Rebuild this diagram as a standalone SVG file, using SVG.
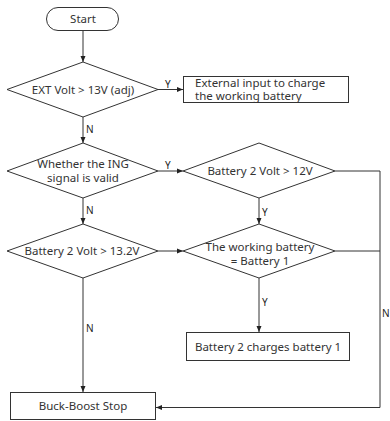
<svg xmlns="http://www.w3.org/2000/svg" width="390" height="421" viewBox="0 0 390 421">
<defs>
<marker id="ah" markerWidth="6" markerHeight="6" refX="6" refY="3" orient="auto" markerUnits="userSpaceOnUse">
<path d="M0,0.5 L6,3 L0,5.5 Z" fill="#222"/>
</marker>
</defs>
<style>
.s{fill:#fff;stroke:#333;stroke-width:1}
.t{font-family:"Noto Sans","DejaVu Sans",sans-serif;font-size:11.5px;fill:#333;text-anchor:middle}
.tl{font-family:"Noto Sans","DejaVu Sans",sans-serif;font-size:11.5px;fill:#333}
.lb{font-family:"Noto Sans","DejaVu Sans",sans-serif;font-size:10px;fill:#222}
.c{fill:none;stroke:#333;stroke-width:1}
</style>
<rect width="390" height="421" fill="#fff"/>
<g id="connectors">
<path class="c" d="M83,31 V62" marker-end="url(#ah)"/>
<path class="c" d="M158,89.5 H183" marker-end="url(#ah)"/>
<path class="c" d="M83,117 V143" marker-end="url(#ah)"/>
<path class="c" d="M158,171 H183" marker-end="url(#ah)"/>
<path class="c" d="M83,198 V224" marker-end="url(#ah)"/>
<path class="c" d="M259,198 V224" marker-end="url(#ah)"/>
<path class="c" d="M158,251 H183" marker-end="url(#ah)"/>
<path class="c" d="M259,278 V332" marker-end="url(#ah)"/>
<path class="c" d="M83,278 V392" marker-end="url(#ah)"/>
<path class="c" d="M335,171 H380 V407.5 H156" marker-end="url(#ah)"/>
<path class="c" d="M335,251 H380"/>
<text class="lb" x="165" y="88">Y</text>
<text class="lb" x="86" y="133">N</text>
<text class="lb" x="165" y="169">Y</text>
<text class="lb" x="86" y="214">N</text>
<text class="lb" x="262" y="216">Y</text>
<text class="lb" x="262" y="306">Y</text>
<text class="lb" x="86" y="332">N</text>
<text class="lb" x="382" y="317">N</text>
</g>
<g id="start">
<rect class="s" x="46.5" y="7.5" width="72" height="23" rx="11.5"/>
<text class="t" x="83" y="23">Start</text>
</g>
<g id="d1">
<polygon class="s" points="83,62 158,89.5 83,117 7,89.5"/>
<text class="t" x="83" y="93.5">EXT Volt &gt; 13V (adj)</text>
</g>
<g id="ext">
<rect class="s" x="183.5" y="76.5" width="165" height="26"/>
<text class="tl" x="195" y="86.5">External input to charge</text>
<text class="tl" x="195" y="100">the working battery</text>
</g>
<g id="d2">
<polygon class="s" points="83,143 158,171 83,198 7,171"/>
<text class="t" x="83" y="168">Whether the ING</text>
<text class="t" x="83" y="182">signal is valid</text>
</g>
<g id="d3">
<polygon class="s" points="259,143 335,171 259,198 183,171"/>
<text class="t" x="260" y="175">Battery 2 Volt &gt; 12V</text>
</g>
<g id="d4">
<polygon class="s" points="83,224 158,251 83,278 7,251"/>
<text class="t" x="82" y="255">Battery 2 Volt &gt; 13.2V</text>
</g>
<g id="d5">
<polygon class="s" points="259,224 335,251 259,278 183,251"/>
<text class="t" x="260" y="251">The working battery</text>
<text class="t" x="260" y="265">= Battery 1</text>
</g>
<g id="b2c">
<rect class="s" x="186.5" y="332.5" width="163" height="28"/>
<text class="t" x="268" y="350.5">Battery 2 charges battery 1</text>
</g>
<g id="stop">
<rect class="s" x="10.5" y="392.5" width="145" height="27"/>
<text class="t" x="83" y="410">Buck-Boost Stop</text>
</g>
</svg>
